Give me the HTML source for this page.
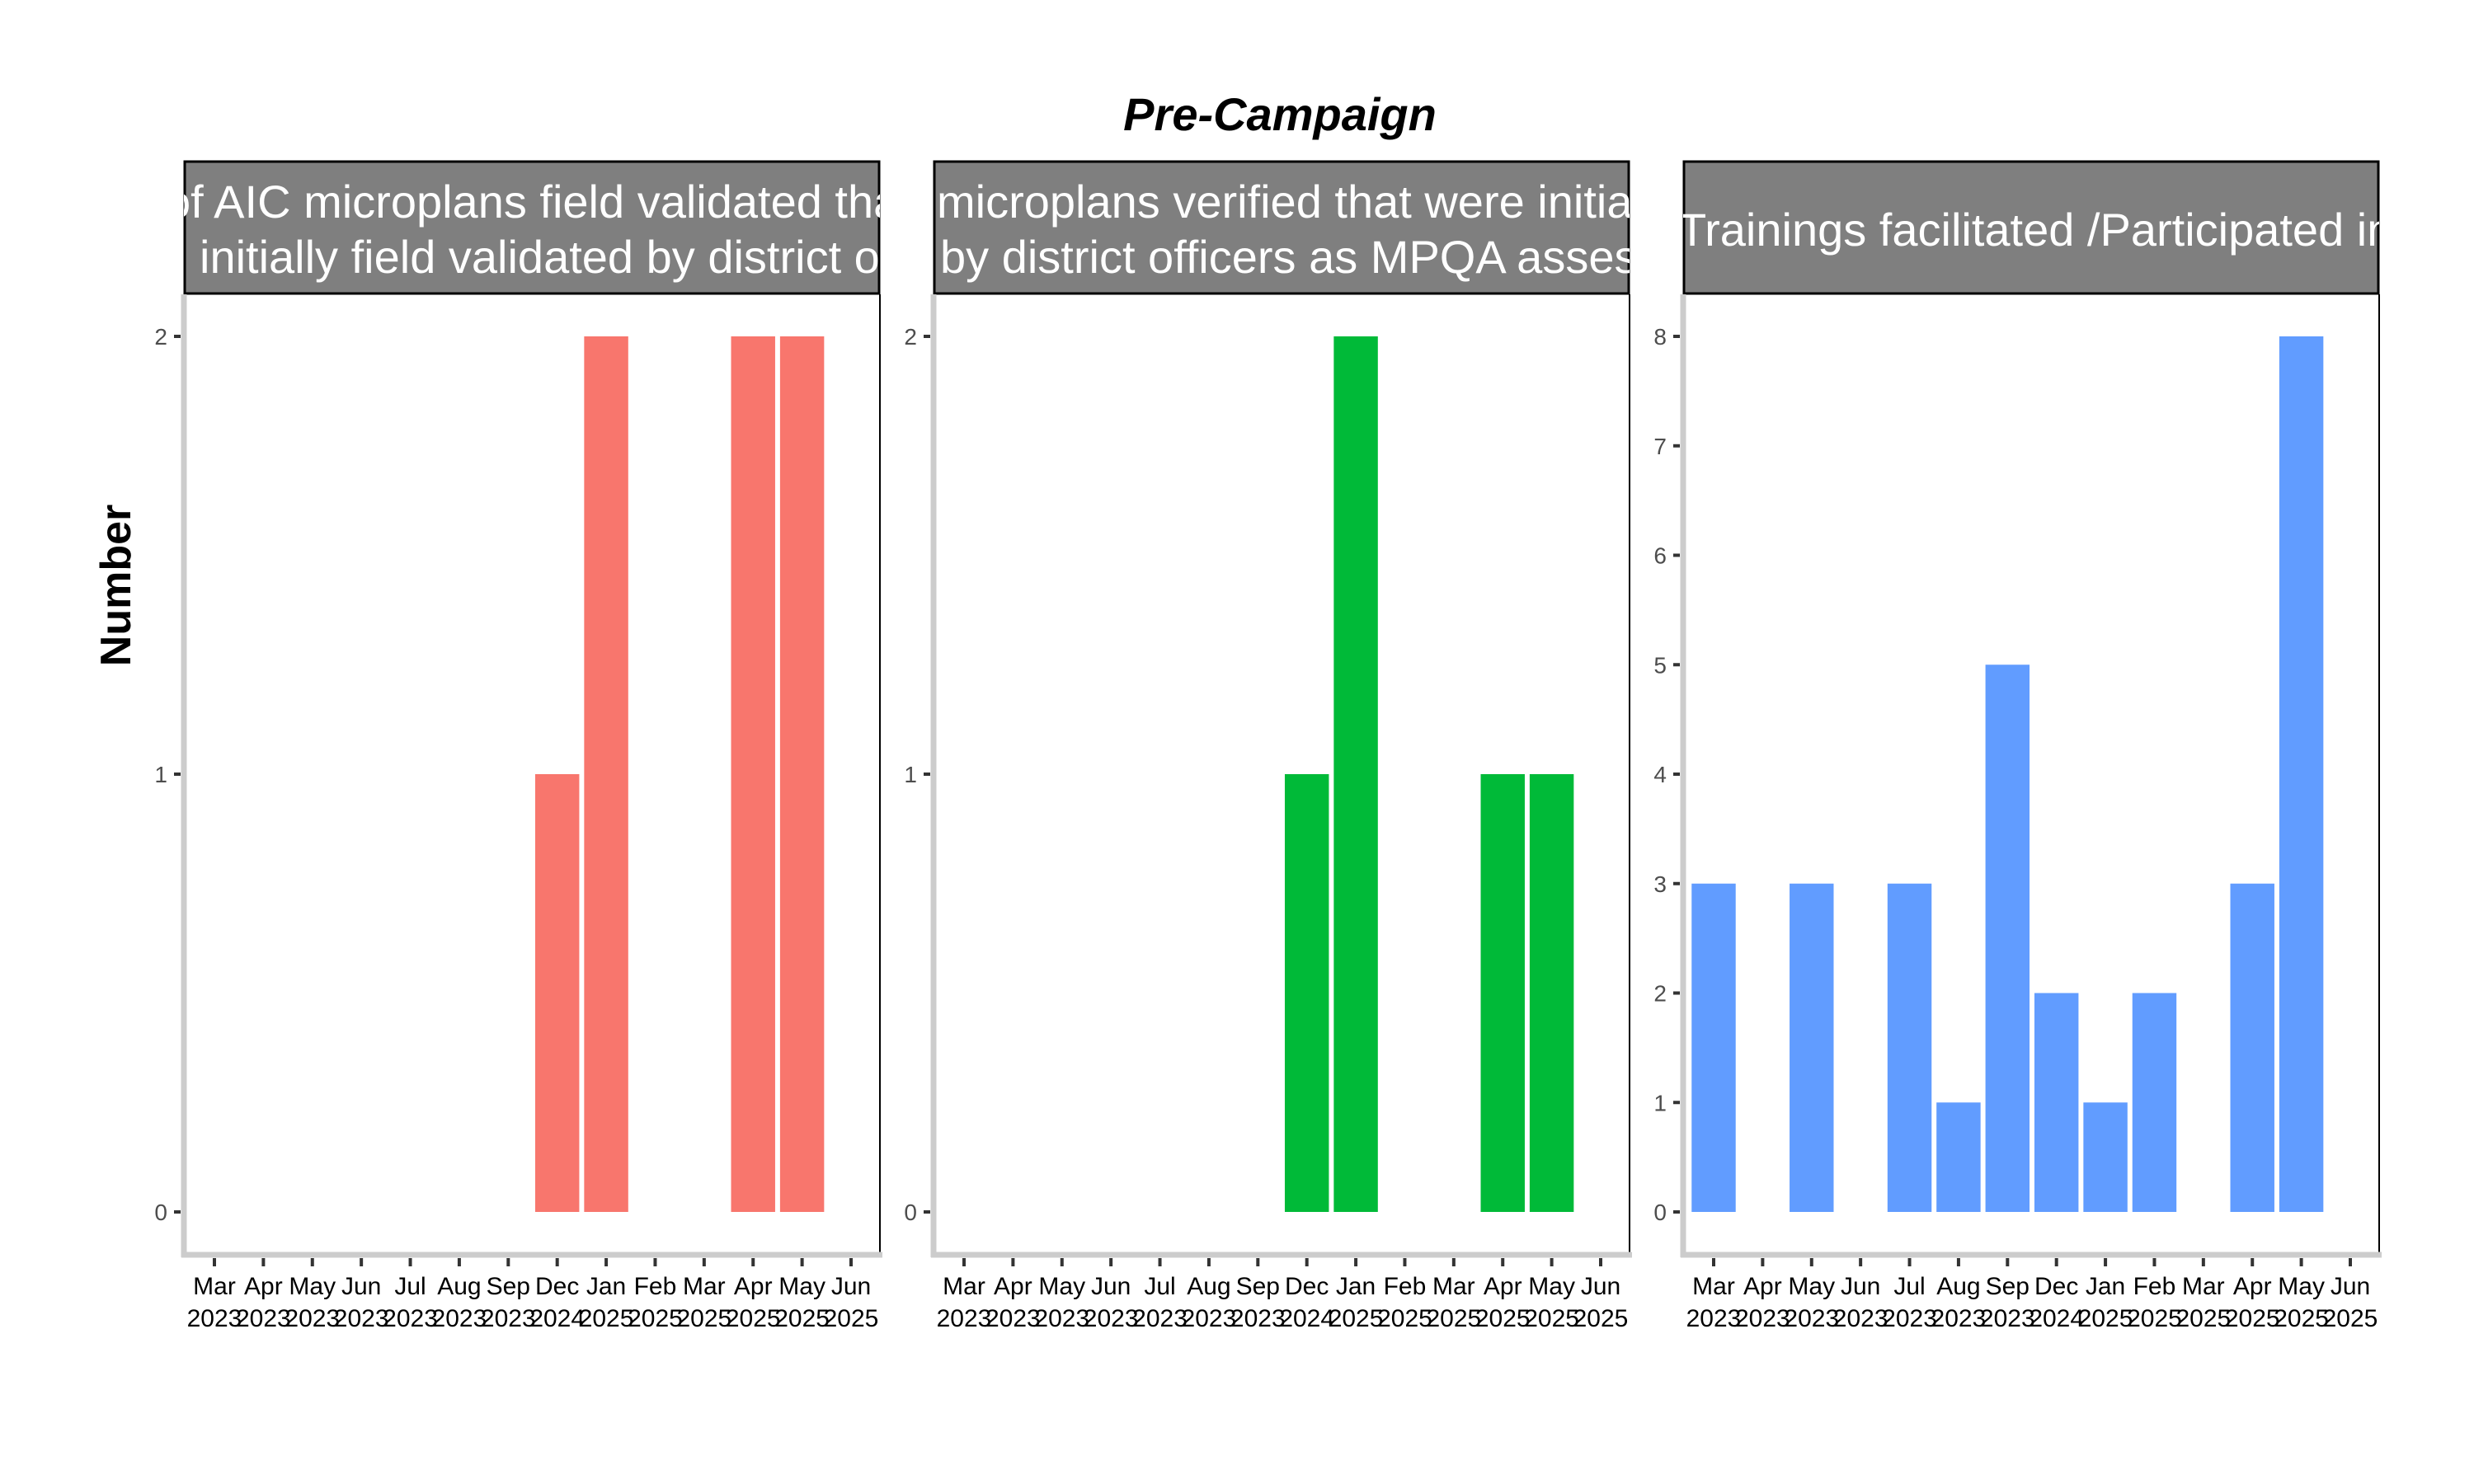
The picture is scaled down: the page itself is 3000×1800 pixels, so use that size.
<!DOCTYPE html>
<html><head><meta charset="utf-8"><style>body{margin:0;background:#fff}svg{display:block}</style></head>
<body>
<svg id="chart" width="3000" height="1800" xmlns="http://www.w3.org/2000/svg" font-family="Liberation Sans, Arial, sans-serif">
<rect width="3000" height="1800" fill="#fff"/>
<text x="1552" y="158" text-anchor="middle" font-size="56" font-weight="bold" font-style="italic">Pre-Campaign</text>
<text transform="translate(158,710) rotate(-90)" text-anchor="middle" font-size="52" font-weight="bold">Number</text>
<g id="panels"></g>
</svg>
<script>
const months = ["Mar","Apr","May","Jun","Jul","Aug","Sep","Dec","Jan","Feb","Mar","Apr","May","Jun"];
const years = ["2023","2023","2023","2023","2023","2023","2023","2024","2025","2025","2025","2025","2025","2025"];
const seriesA = [0,0,0,0,0,0,0,1,2,0,0,2,2,0];
const seriesB = [0,0,0,0,0,0,0,1,2,0,0,1,1,0];
const seriesC = [3,0,3,0,3,1,5,2,1,2,0,3,8,0];
const ticksA = [0,1,2];
const ticksB = [0,1,2];
const ticksC = [0,1,2,3,4,5,6,7,8];
const titlesA = ["of AIC microplans field validated that were", " initially field validated by district officers"];
const titlesB = ["microplans verified that were initially", "by district officers as MPQA assessors"];
const titlesC = ["Trainings facilitated /Participated in"];

const NS = "http://www.w3.org/2000/svg";
const root = document.getElementById("panels");
function mk(tag, attrs, parent){const e=document.createElementNS(NS,tag);for(const k in attrs)e.setAttribute(k,attrs[k]);(parent||root).appendChild(e);return e;}

const panelDefs = [
 {left:223, vals:seriesA, ticks:ticksA, ymax:2, color:"#F8766D", titles:titlesA, tx:[200,242], ty:[264,331]},
 {left:1132, vals:seriesB, ticks:ticksB, ymax:2, color:"#00BA38", titles:titlesB, tx:[1136,1140], ty:[264,331]},
 {left:2041, vals:seriesC, ticks:ticksC, ymax:8, color:"#619CFF", titles:titlesC, tx:[2035], ty:[298]}
];
const W = 844, stripTop=195, stripBot=357, axisY=1522, y0=1470, yTop=408;

panelDefs.forEach((p,pi)=>{
  const g = mk("g",{});
  
  
  const xs = i => p.left+37 + i*(W-72)/(months.length-1);
  const ys = v => y0 - v*(y0-yTop)/p.ymax;
  // strip
  const cp = mk("clipPath",{id:"clip"+pi},g);
  mk("rect",{x:p.left,y:stripTop,width:W,height:stripBot-stripTop},cp);
  const strip = mk("rect",{x:p.left+1,y:stripTop+1,width:W-2,height:stripBot-stripTop-2,fill:"#7f7f7f",stroke:"#000","stroke-width":3},g);
  
  
  const tg = mk("g",{"clip-path":"url(#clip"+pi+")"},g);
  p.titles.forEach((t,i)=>{
    const te = mk("text",{x:p.tx[i],y:p.ty[i],fill:"#fff","font-size":56},tg);
    
    
    te.textContent = t;
  });
  // right border
  mk("line",{x1:p.left+W,y1:stripBot,x2:p.left+W,y2:axisY,stroke:"#000","stroke-width":2},g);
  // bars
  p.vals.forEach((v,i)=>{
    if(v<=0) return;
    const bw = 0.9*(W-72)/(months.length-1);
    const b = mk("rect",{x:xs(i)-bw/2,y:ys(v),width:bw,height:ys(0)-ys(v),fill:p.color},g);
    
    
  });
  // axes
  mk("line",{x1:p.left,y1:stripBot,x2:p.left,y2:axisY+3,stroke:"#cccccc","stroke-width":7},g);
  mk("line",{x1:p.left-3,y1:axisY,x2:p.left+W+3,y2:axisY,stroke:"#cccccc","stroke-width":7},g);
  p.ticks.forEach(t=>{
    mk("line",{x1:p.left-12,y1:ys(t),x2:p.left-4,y2:ys(t),stroke:"#333","stroke-width":4},g);
    const l = mk("text",{x:p.left-20,y:ys(t)+10,"text-anchor":"end","font-size":28,fill:"#4d4d4d"},g);
    
    
    l.textContent = t;
  });
  months.forEach((m,i)=>{
    mk("line",{x1:xs(i),y1:axisY+4,x2:xs(i),y2:axisY+14,stroke:"#333","stroke-width":4},g);
    const l = mk("text",{x:xs(i),y:1570,"text-anchor":"middle","font-size":30,fill:"#000"},g);
    
    
    l.textContent = m;
    const l2 = mk("text",{x:xs(i),y:1609,"text-anchor":"middle","font-size":30,fill:"#000"},g);
    
    
    l2.textContent = years[i];
  });
});
</script>
</body></html>
